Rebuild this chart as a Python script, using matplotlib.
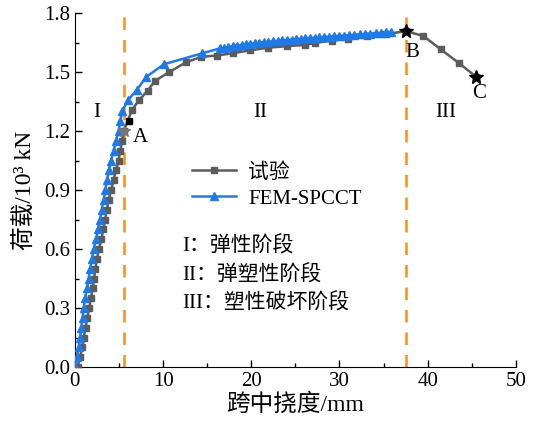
import matplotlib.pyplot as plt
from matplotlib.ticker import MultipleLocator

plt.rcParams['font.family'] = ['Liberation Serif', 'Noto Sans CJK SC']

# test curve (gray squares)
test_x = [0.30, 0.58, 0.80, 1.00, 1.20, 1.40, 1.62, 1.82, 2.02, 2.17, 2.32, 2.50, 2.72,
          3.00, 3.22, 3.42, 3.62, 3.82, 4.10, 4.38, 4.66, 4.95, 5.15, 5.33, 5.55,
          6.46, 7.26, 8.24, 9.07, 10.7, 12.6, 14.35, 16.1, 17.9, 19.8, 21.9, 24.1,
          26.1, 27.2, 29.1, 31.0, 33.1, 35.3, 37.5, 39.5, 41.5, 43.6, 45.5]
test_y = [0.00, 0.05, 0.10, 0.15, 0.20, 0.25, 0.30, 0.35, 0.40, 0.45, 0.50, 0.55, 0.60,
          0.65, 0.70, 0.75, 0.80, 0.85, 0.90, 0.95, 1.00, 1.05, 1.10, 1.15, 1.20,
          1.307, 1.357, 1.405, 1.455, 1.50, 1.55, 1.578, 1.584, 1.596, 1.61, 1.624, 1.632,
          1.638, 1.648, 1.66, 1.67, 1.682, 1.693, 1.708, 1.684, 1.615, 1.544, 1.476]

# FEM-SPCCT curve (blue triangles)
fem_x = [0.05, 0.20, 0.42, 0.58, 0.72, 0.86, 0.98, 1.17, 1.36, 1.55, 1.74, 1.92, 2.14,
         2.38, 2.65, 2.85, 3.05, 3.25, 3.45, 3.65, 3.85, 4.10, 4.38, 4.65, 4.95, 5.15, 5.35,
         6.0, 7.0, 8.1, 10.1, 14.4,
         16.4, 16.9, 17.4, 17.9, 18.4, 18.9, 19.4, 19.9, 20.4, 20.9, 21.4, 21.9, 22.5,
         23.0, 23.5, 24.0, 24.6, 25.1, 25.6, 26.1, 26.7, 27.2, 27.7, 28.3, 28.8, 29.4,
         29.9, 30.5, 31.1, 31.7, 32.3, 32.9, 33.5, 34.1, 34.7, 35.3, 35.8]
fem_y = [0.00, 0.05, 0.10, 0.15, 0.20, 0.25, 0.30, 0.35, 0.40, 0.45, 0.50, 0.55, 0.60,
         0.65, 0.70, 0.75, 0.80, 0.85, 0.90, 0.95, 1.00, 1.05, 1.10, 1.15, 1.20, 1.25, 1.30,
         1.357, 1.408, 1.476, 1.54, 1.595,
         1.620, 1.624, 1.628, 1.632, 1.635, 1.638, 1.641, 1.644, 1.647, 1.649, 1.652, 1.654, 1.657,
         1.659, 1.661, 1.663, 1.665, 1.667, 1.669, 1.671, 1.673, 1.675, 1.677, 1.679, 1.680, 1.682,
         1.684, 1.686, 1.688, 1.690, 1.692, 1.694, 1.696, 1.698, 1.700, 1.702, 1.704]

# stage boundaries and key points
stage_x = [5.6, 37.5]
key_names = ['A', 'B', 'C']
key_x = [5.55, 37.5, 45.5]
key_y = [1.20, 1.708, 1.476]
yield_sq = (6.1, 1.25)

fig = plt.figure(figsize=(5.39, 4.22), dpi=100)
ax = fig.add_axes([0.139, 0.130, 0.818, 0.839])

ax.plot(test_x, test_y, color='#5c5c5c', lw=1.8, marker='s', ms=5, label='试验', zorder=3)
ax.plot(fem_x, fem_y, color='#1f7ae6', lw=1.8, marker='^', ms=6, label='FEM-SPCCT', zorder=4)

for xv in stage_x:
    ax.axvline(xv, color='#ff8c1a', lw=1.8, ls=(0, (5, 4)), zorder=2)

ax.plot(key_x[0], key_y[0], marker='*', color='#777777', ms=9, ls='none', zorder=5)
ax.plot(key_x[1:], key_y[1:], marker='*', color='black', ms=10, ls='none', zorder=5)
ax.plot(*yield_sq, marker='s', color='black', ms=5, ls='none', zorder=5)

fs = 15
ax.text(7.4, 1.17, 'A', fontsize=fs, ha='center', va='center')
ax.text(38.3, 1.60, 'B', fontsize=fs, ha='center', va='center')
ax.text(45.8, 1.39, 'C', fontsize=fs, ha='center', va='center')

ax.text(2.5, 1.296, 'I', fontsize=fs, ha='center', va='center')
ax.text(21.0, 1.296, 'II', fontsize=fs, ha='center', va='center')
ax.text(42.0, 1.296, 'III', fontsize=fs, ha='center', va='center')

ax.text(12.2, 0.615, 'I：弹性阶段', fontsize=fs, va='center')
ax.text(12.2, 0.468, 'II：弹塑性阶段', fontsize=fs, va='center')
ax.text(12.2, 0.325, 'III：塑性破坏阶段', fontsize=fs, va='center')

ax.legend(loc='upper left', bbox_to_anchor=(0.247, 0.60), frameon=False, fontsize=fs,
          handlelength=2.1, handletextpad=0.6, labelspacing=0.3, borderaxespad=0)

ax.set_xlim(0, 50)
ax.set_ylim(0, 1.8)
ax.xaxis.set_major_locator(MultipleLocator(10))
ax.xaxis.set_minor_locator(MultipleLocator(5))
ax.yaxis.set_major_locator(MultipleLocator(0.3))
ax.yaxis.set_minor_locator(MultipleLocator(0.15))
ax.yaxis.set_major_formatter(plt.FormatStrFormatter('%.1f'))
ax.tick_params(which='both', direction='in', labelsize=fs, width=1)
ax.tick_params(which='major', length=5)
ax.tick_params(which='minor', length=3)
ax.spines['top'].set_visible(False)
ax.spines['right'].set_visible(False)

ax.set_xlabel('跨中挠度/mm', fontsize=17, labelpad=2)
ax.set_ylabel('荷载/10³ kN', fontsize=17, labelpad=5)

fig.savefig('out.png', dpi=100)
